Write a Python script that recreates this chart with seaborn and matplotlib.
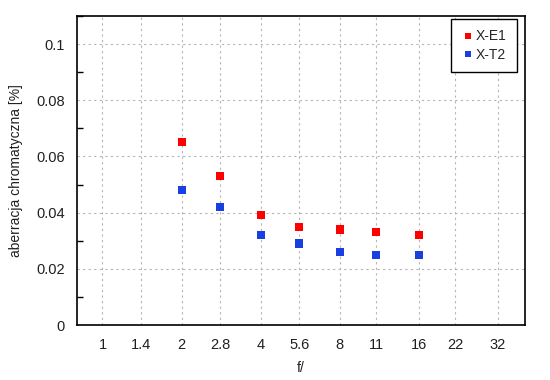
import numpy as np
import pandas as pd
import matplotlib
matplotlib.use("Agg")
import matplotlib.pyplot as plt
import seaborn as sns
from matplotlib.ticker import FixedLocator, NullLocator, MultipleLocator

sns.set_style("white")
plt.rcParams['font.family'] = ['Liberation Sans', 'DejaVu Sans']

# f-numbers and chromatic aberration readings
apertures = [2, 2.8, 4, 5.6, 8, 11, 16]
ca_xe1 = [0.065, 0.053, 0.039, 0.035, 0.034, 0.033, 0.032]
ca_xt2 = [0.048, 0.042, 0.032, 0.029, 0.026, 0.025, 0.025]
series = ['X-E1', 'X-T2']
xticks = [1, 1.4, 2, 2.8, 4, 5.6, 8, 11, 16, 22, 32]
xtick_labels = ['1', '1.4', '2', '2.8', '4', '5.6', '8', '11', '16', '22', '32']

df = pd.DataFrame({
    'f': apertures * 2,
    'ca': ca_xe1 + ca_xt2,
    'body': [series[0]] * len(apertures) + [series[1]] * len(apertures),
})

fig = plt.figure(figsize=(5.5, 3.8), dpi=100)
ax = fig.add_axes([0.14, 0.1447, 0.8145, 0.8133])

sns.scatterplot(data=df, x='f', y='ca', hue='body',
                palette={'X-E1': '#ff0000', 'X-T2': '#1a3fe0'},
                marker='s', s=34, linewidth=0, ax=ax, zorder=3)

ax.set_xscale('log')
ax.set_xlim(0.8, 40.5)
ax.set_ylim(0, 0.11)
ax.xaxis.set_major_locator(FixedLocator(xticks))
ax.xaxis.set_minor_locator(NullLocator())
ax.set_xticklabels(xtick_labels)
ax.yaxis.set_major_locator(FixedLocator([0, 0.02, 0.04, 0.06, 0.08, 0.1]))
ax.yaxis.set_minor_locator(MultipleLocator(0.01))
ax.set_yticklabels(['0', '0.02', '0.04', '0.06', '0.08', '0.1'])

ax.grid(True, which='major', color='#b4b4b4', linestyle=(0, (2, 3)), linewidth=0.8)
ax.tick_params(axis='both', which='both', direction='in', labelsize=10.5,
               colors='black', labelcolor='#202020', top=False, right=False)
ax.tick_params(axis='both', which='major', length=6, width=1)
ax.tick_params(axis='y', which='minor', length=4, width=1, left=True)
ax.tick_params(axis='x', pad=9)
ax.tick_params(axis='y', pad=9)
for sp in ax.spines.values():
    sp.set_color('black')
    sp.set_linewidth(1.2)

ax.set_xlabel('f/', fontsize=10, labelpad=7, color='#202020')
ax.set_ylabel('aberracja chromatyczna [%]', fontsize=10, labelpad=9, color='#202020')

leg = ax.legend(loc='upper right', bbox_to_anchor=(0.982, 0.99), fontsize=10,
                frameon=True, fancybox=False,
                handletextpad=0.1, handlelength=0.9, borderpad=0.75,
                labelspacing=0.3, borderaxespad=0.0, markerscale=0.8)
leg.get_frame().set_edgecolor('black')
leg.get_frame().set_linewidth(1.0)
leg.get_frame().set_alpha(1)
leg.set_title(None)

fig.savefig('out.png', dpi=100)
